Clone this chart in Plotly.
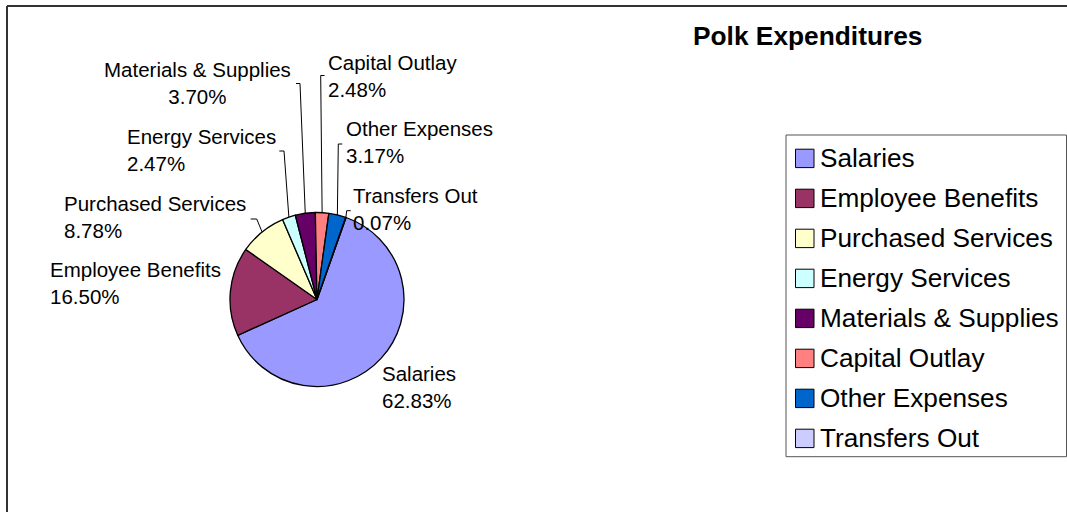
import math
import plotly.graph_objects as go

# Expenditure categories and their shares (percent of total)
categories = ["Salaries", "Employee Benefits", "Purchased Services", "Energy Services",
              "Materials & Supplies", "Capital Outlay", "Other Expenses", "Transfers Out"]
shares = [62.83, 16.50, 8.78, 2.47, 3.70, 2.48, 3.17, 0.07]
colors = ["#9999FF", "#993366", "#FFFFCC", "#CCFFFF", "#660066", "#FF8080", "#0066CC", "#CCCCFF"]

W, H = 1067, 512
FONT = "Arial, Liberation Sans, sans-serif"

# pie geometry (pixels)
CX, CY, R = 317.0, 299.5, 87.0
ROTATION = 19.5
PAD = 3  # inner padding plotly adds around annotation text


def px(x):
    return x / W


def py(y):
    return 1 - y / H


# label placement: (x, y of block centre, anchor, align)
label_pos = {
    "Salaries": (383, 387, "left", "left"),
    "Employee Benefits": (51, 283, "left", "left"),
    "Purchased Services": (65, 217, "left", "left"),
    "Energy Services": (127.5, 150, "left", "left"),
    "Materials & Supplies": (197, 83, "center", "center"),
    "Capital Outlay": (329, 75.5, "left", "left"),
    "Other Expenses": (347, 141.5, "left", "left"),
    "Transfers Out": (353.5, 208.5, "left", "left"),
}
# leader lines: elbow point and end of the short tick
leaders = {
    "Purchased Services": (256.7, 219, 250.7),
    "Energy Services": (284, 151, 279.3),
    "Materials & Supplies": (300, 83.5, 296),
    "Capital Outlay": (320.7, 75.5, 324.5),
    "Other Expenses": (338.3, 144, 342.3),
    "Transfers Out": (346.7, 210.7, 350.7),
}

fig = go.Figure()
fig.add_trace(go.Pie(
    labels=categories, values=shares, sort=False, direction="clockwise",
    rotation=ROTATION, textinfo="none", hoverinfo="label+percent",
    marker=dict(colors=colors, line=dict(color="#000000", width=1.3)),
    domain=dict(x=[px(CX - R), px(CX + R)], y=[py(CY + R), py(CY - R)]),
    showlegend=False,
))

shapes = []
annotations = []

# outer frame (left and top edges)
shapes.append(dict(type="line", xref="paper", yref="paper", x0=px(7), x1=px(7), y0=py(6), y1=-0.05,
                   line=dict(color="#333333", width=2)))
shapes.append(dict(type="line", xref="paper", yref="paper", x0=px(7), x1=1.05, y0=py(6), y1=py(6),
                   line=dict(color="#333333", width=2)))

# data labels and leader lines
total = sum(shares)
cum = 0.0
for name, v in zip(categories, shares):
    mid = cum + v / 2
    cum += v
    ang = math.radians(ROTATION + 360 * mid / total)
    ex, ey = CX + R * math.sin(ang), CY - R * math.cos(ang)
    lx, ly, anchor, align = label_pos[name]
    if anchor == "left":
        lx -= PAD
    annotations.append(dict(
        x=px(lx), y=py(ly), xref="paper", yref="paper", xanchor=anchor, yanchor="middle",
        align=align, showarrow=False, text=f"{name}<br>{v:.2f}%",
        font=dict(family=FONT, size=20.5, color="#000000"),
    ))
    if name in leaders:
        bx, by, tx = leaders[name]
        path = f"M {px(ex)} {py(ey)} L {px(bx)} {py(by)} L {px(tx)} {py(by)}"
        shapes.append(dict(type="path", xref="paper", yref="paper", path=path,
                           line=dict(color="#000000", width=1)))

# title
annotations.append(dict(
    x=px(694 - PAD), y=py(36), xref="paper", yref="paper", xanchor="left", yanchor="middle",
    showarrow=False, text="<b>Polk Expenditures</b>",
    font=dict(family=FONT, size=26.3, color="#000000"),
))

# legend box with swatches
LX0, LY0, LX1, LY1 = 786, 135, 1066.5, 456.7
shapes.append(dict(type="rect", xref="paper", yref="paper", x0=px(LX0), x1=px(LX1), y0=py(LY0), y1=py(LY1),
                   line=dict(color="#555555", width=1), fillcolor="rgba(0,0,0,0)"))
for i, (name, c) in enumerate(zip(categories, colors)):
    yc = 158.4 + 40 * i
    shapes.append(dict(type="rect", xref="paper", yref="paper",
                       x0=px(795.5), x1=px(814), y0=py(yc - 9.2), y1=py(yc + 9.2),
                       fillcolor=c, line=dict(color="#000000", width=1)))
    annotations.append(dict(
        x=px(821 - PAD), y=py(yc), xref="paper", yref="paper", xanchor="left", yanchor="middle",
        showarrow=False, text=name, font=dict(family=FONT, size=26.2, color="#000000"),
    ))

fig.update_layout(
    width=W, height=H, margin=dict(l=0, r=0, t=0, b=0),
    paper_bgcolor="#FFFFFF", plot_bgcolor="#FFFFFF",
    shapes=shapes, annotations=annotations,
)

fig.write_html("out.html")
